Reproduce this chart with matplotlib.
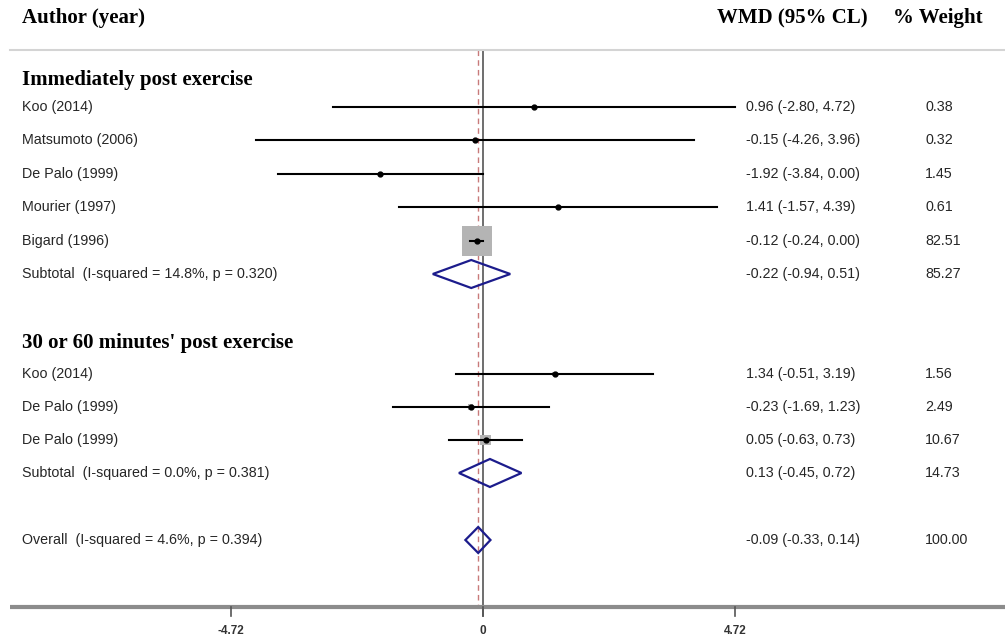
import matplotlib
matplotlib.use("Agg")
from matplotlib import pyplot as plt
from matplotlib.patches import Rectangle, Polygon
from matplotlib.transforms import blended_transform_factory
import numpy as np

# study data: group 1 (immediately post exercise)
g1_labels = ["Koo (2014)", "Matsumoto (2006)", "De Palo (1999)", "Mourier (1997)", "Bigard (1996)"]
g1_est = [0.96, -0.15, -1.92, 1.41, -0.12]
g1_lo = [-2.80, -4.26, -3.84, -1.57, -0.24]
g1_hi = [4.72, 3.96, 0.00, 4.39, 0.00]
g1_w = [0.38, 0.32, 1.45, 0.61, 82.51]
g1_sub = ("Subtotal  (I-squared = 14.8%, p = 0.320)", -0.22, -0.94, 0.51, 85.27)

# group 2 (30 or 60 minutes post exercise)
g2_labels = ["Koo (2014)", "De Palo (1999)", "De Palo (1999)"]
g2_est = [1.34, -0.23, 0.05]
g2_lo = [-0.51, -1.69, -0.63]
g2_hi = [3.19, 1.23, 0.73]
g2_w = [1.56, 2.49, 10.67]
g2_sub = ("Subtotal  (I-squared = 0.0%, p = 0.381)", 0.13, -0.45, 0.72, 14.73)

overall = ("Overall  (I-squared = 4.6%, p = 0.394)", -0.09, -0.33, 0.14, 100.00)

ticks = [-4.72, 0, 4.72]

PX = 53.4  # pixels per unit
fig = plt.figure(figsize=(10.05, 6.43), dpi=100)
ax = fig.add_axes([0, 0, 1, 1])
ax.set_xlim(-483 / PX, (1005 - 483) / PX)
ax.set_ylim(643, 0)
ax.axis("off")
tr = blended_transform_factory(ax.transAxes, ax.transData)

serif = "Liberation Serif"
sans = "Liberation Sans"
fs = 10.3
hfs = 15
tcol = "#262626"
x_lab, x_wmd, x_w = 22 / 1005, 746 / 1005, 925 / 1005

# header
ax.text(22 / 1005, 18, "Author (year)", transform=tr, fontfamily=serif, fontweight="bold", fontsize=hfs, va="center")
ax.text(717 / 1005, 18, "WMD (95% CL)", transform=tr, fontfamily=serif, fontweight="bold", fontsize=hfs, va="center")
ax.text(893 / 1005, 18, "% Weight", transform=tr, fontfamily=serif, fontweight="bold", fontsize=hfs, va="center")
ax.plot([10 / 1005, 1], [50, 50], transform=tr, color="#d4d4d4", lw=1.5)

# reference lines
ax.plot([0, 0], [50, 616], color="#555555", lw=1.2, zorder=1)
ax.plot([overall[1], overall[1]], [50, 607], color="#c87a7a", lw=1, dashes=(4, 3), zorder=1)


def row_text(lab, e, l, h, ww, y):
    ax.text(x_lab, y, lab, transform=tr, fontfamily=sans, fontsize=fs, va="center", color=tcol)
    ax.text(x_wmd, y, "%.2f (%.2f, %.2f)" % (e, l, h), transform=tr, fontfamily=sans, fontsize=fs, va="center", color=tcol)
    ax.text(x_w, y, "%.2f" % ww, transform=tr, fontfamily=sans, fontsize=fs, va="center", color=tcol)


def study_rows(labels, est, lo, hi, w, ys):
    for lab, e, l, h, ww, y in zip(labels, est, lo, hi, w, ys):
        side = 30 * np.sqrt(ww / 82.51)
        ax.add_patch(Rectangle((e - side / 2 / PX, y - side / 2), side / PX, side,
                               facecolor="#b4b4b4", edgecolor="none", zorder=2))
        ax.plot([l, h], [y, y], color="black", lw=1.5, zorder=3)
        ax.plot(e, y, "o", color="black", ms=3.5, zorder=4)
        row_text(lab, e, l, h, ww, y)


def diamond(row, y, half):
    lab, e, l, h, ww = row
    ax.add_patch(Polygon([(l, y), (e, y - half), (h, y), (e, y + half)], closed=True,
                         facecolor="none", edgecolor="#1c1c8c", lw=1.6, zorder=3))
    row_text(lab, e, l, h, ww, y)


ax.text(22 / 1005, 80, "Immediately post exercise", transform=tr, fontfamily=serif, fontweight="bold", fontsize=hfs, va="center")
y1 = 107 + 33.4 * np.arange(len(g1_labels) + 1)
study_rows(g1_labels, g1_est, g1_lo, g1_hi, g1_w, y1[:-1])
diamond(g1_sub, y1[-1], 14)

ax.text(22 / 1005, 343, "30 or 60 minutes' post exercise", transform=tr, fontfamily=serif, fontweight="bold", fontsize=hfs, va="center")
y2 = 374 + 33 * np.arange(len(g2_labels) + 1)
study_rows(g2_labels, g2_est, g2_lo, g2_hi, g2_w, y2[:-1])
diamond(g2_sub, y2[-1], 14)

diamond(overall, 540, 13)

# x axis
ax.plot([10 / 1005, 1], [607, 607], transform=tr, color="#8c8c8c", lw=3, zorder=1, solid_capstyle="butt")
for t in ticks:
    ax.plot([t, t], [607, 616], color="#555555", lw=1.2)
    ax.text(t, 631, "%g" % t if t == 0 else "%.2f" % t, ha="center", va="center",
            fontfamily=sans, fontsize=8.5, fontweight="bold", color="#333333")

fig.savefig("out.png", dpi=100)
